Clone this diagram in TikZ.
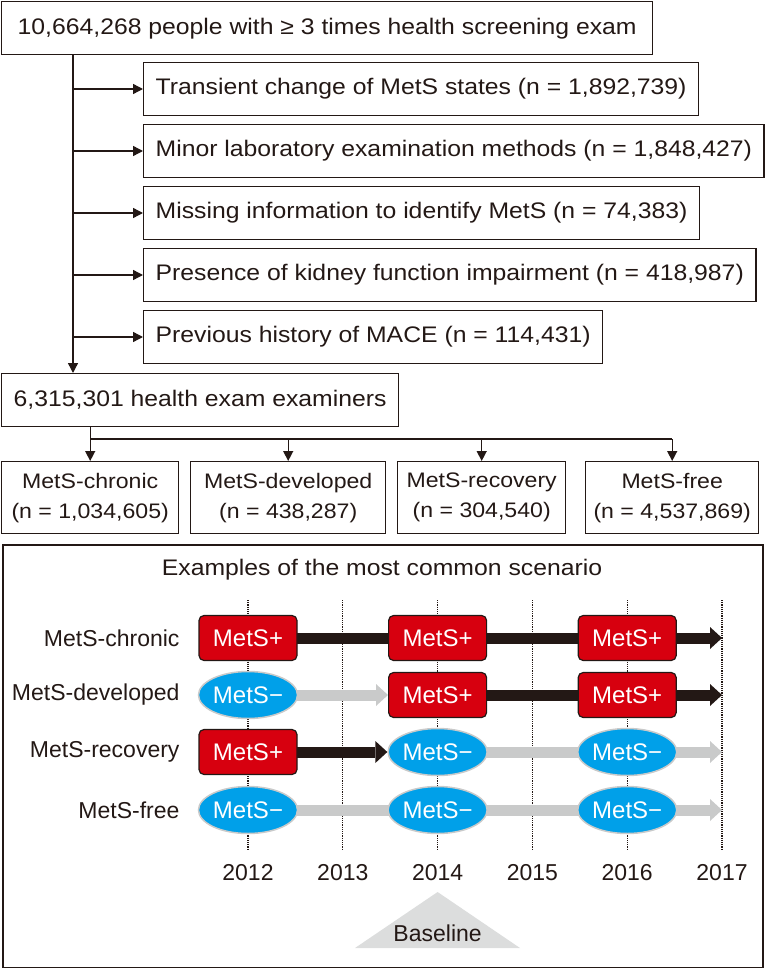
\documentclass[tikz,border=0pt]{standalone}
\usepackage{fontspec}
\setmainfont{Liberation Sans}[FakeStretch=1.1]
\newfontfamily\panelfont{Liberation Sans}
\usetikzlibrary{arrows.meta,shapes.geometric,positioning,calc}

\definecolor{ink}{HTML}{231815}
\definecolor{metsred}{HTML}{D7000F}
\definecolor{metsblue}{HTML}{00A0E9}
\definecolor{bargrey}{HTML}{C9CACA}
\definecolor{basegrey}{HTML}{DCDDDD}

\pgfdeclarelayer{grid}
\pgfdeclarelayer{bars}
\pgfsetlayers{grid,bars,main}

\begin{document}
\begin{tikzpicture}[x=1pt, y=-1pt,
    box/.style={draw=ink, line width=1.4pt, minimum height=53pt, inner xsep=12pt, text=ink, font=\fontsize{22.5}{27}\selectfont},
    grp/.style={draw=ink, line width=1.4pt, anchor=north west, minimum height=72pt, inner sep=2pt, align=center, text=ink, font=\fontsize{21}{30}\selectfont},
    arr/.style={-{Triangle[length=10pt, width=10pt]}, line width=1.4pt, draw=ink},
    plusstate/.style={draw=ink, fill=metsred, rounded corners=5pt, line width=1.2pt, minimum width=98pt, minimum height=45pt, text=white, font=\panelfont\fontsize{24}{28}\selectfont},
    minusstate/.style={ellipse, draw=bargrey, fill=metsblue, line width=1.5pt, minimum width=97pt, minimum height=47pt, inner sep=0pt, text=white, font=\panelfont\fontsize{24}{28}\selectfont},
    rowlbl/.style={anchor=east, text=ink, font=\panelfont\fontsize{23}{27}\selectfont},
    yr/.style={text=ink, font=\panelfont\fontsize{23}{27}\selectfont},
    darkbar/.style={-{Triangle[length=12pt 0 0, width=22pt 0 0, line width=0pt]}, line width=11pt, draw=ink},
    greybar/.style={-{Triangle[length=12pt 0 0, width=22pt 0 0, line width=0pt]}, line width=11pt, draw=bargrey},
    tick/.style={densely dotted, line width=1.2pt, draw=ink}
]
\useasboundingbox (0,0) rectangle (764,968);

% selection flow
\node[box, anchor=north west, minimum width=651pt] (all) at (1,1) {10,664,268 people with ≥ 3 times health screening exam};
\node[box, anchor=west] (ex1) at (143,89) {Transient change of MetS states (n = 1,892,739)};
\node[box, anchor=west] (ex2) at (143,151) {Minor laboratory examination methods (n = 1,848,427)};
\node[box, anchor=west] (ex3) at (143,213) {Missing information to identify MetS (n = 74,383)};
\node[box, anchor=west] (ex4) at (143,275) {Presence of kidney function impairment (n = 418,987)};
\node[box, anchor=west] (ex5) at (143,337) {Previous history of MACE (n = 114,431)};
\node[box, anchor=north west, minimum width=395pt] (pop) at (1,373) {6,315,301 health exam examiners};

\coordinate (trunk) at ([xshift=72pt]all.south west);
\draw[arr] (trunk) -- (trunk |- pop.north);
\foreach \e in {ex1,ex2,ex3,ex4,ex5}
    \draw[arr] (trunk |- \e.west) -- (\e.west);

\node[grp, minimum width=177pt] (g1) at (1,461) {MetS-chronic\\(n = 1,034,605)};
\node[grp, minimum width=195pt] (g2) at (190,461) {MetS-developed\\(n = 438,287)};
\node[grp, minimum width=168pt] (g3) at (397,461) {MetS-recovery\\(n = 304,540)};
\node[grp, minimum width=173pt] (g4) at (585,461) {MetS-free\\(n = 4,537,869)};

\coordinate (split) at (0,439);
\draw[arr] (pop.south -| g1.north) -- (g1.north);
\draw[line width=1.4pt, draw=ink] (g1.north |- split) -- (g4.north |- split);
\foreach \g in {g2,g3,g4}
    \draw[arr] (\g.north |- split) -- (\g.north);

% scenarios
\node[draw=ink, line width=2.2pt, anchor=north west, minimum width=760pt, minimum height=423pt] (scen) at (1.5,543.5) {};
\node[text=ink, font=\fontsize{22.5}{27}\selectfont] (ttl) at (382,570) {Examples of the most common scenario};

\foreach \y [count=\i from 0] in {2012,2013,2014,2015,2016,2017} {
    \node[yr] (y\y) at (248+94.8*\i,873) {\y};
    \begin{pgfonlayer}{grid}
        \draw[tick] (248+94.8*\i,600) -- (248+94.8*\i,850);
    \end{pgfonlayer}
}

\node[rowlbl] (lc) at (183,638) {MetS-chronic};
\node[rowlbl] (ld) at (183,695) {MetS-developed};
\node[rowlbl] (lr) at (183,752) {MetS-recovery};
\node[rowlbl] (lf) at (183,810) {MetS-free};

\node[plusstate] (c1) at (248,638) {MetS+};
\node[plusstate] (c2) at (437.6,638) {MetS+};
\node[plusstate] (c3) at (627.2,638) {MetS+};
\node[minusstate] (d1) at (248,695) {MetS−};
\node[plusstate] (d2) at (437.6,695) {MetS+};
\node[plusstate] (d3) at (627.2,695) {MetS+};
\node[plusstate] (r1) at (248,752) {MetS+};
\node[minusstate] (r2) at (437.6,752) {MetS−};
\node[minusstate] (r3) at (627.2,752) {MetS−};
\node[minusstate] (f1) at (248,810) {MetS−};
\node[minusstate] (f2) at (437.6,810) {MetS−};
\node[minusstate] (f3) at (627.2,810) {MetS−};

\coordinate (cend) at (722,638);
\coordinate (dend) at (722,695);
\coordinate (rend) at (722,752);
\coordinate (fend) at (722,810);

\begin{pgfonlayer}{bars}
\draw[darkbar] (c1.center) -- (cend);
\draw[greybar] (d1.center) -- (d2.west);
\draw[darkbar] (d2.center) -- (dend);
\draw[darkbar] (r1.center) -- (r2.west);
\draw[greybar] (r2.center) -- (rend);
\draw[greybar] (f1.center) -- (fend);
\end{pgfonlayer}

\fill[basegrey] (437.6,892) -- (520,948) -- (355,948) -- cycle;
\node[yr] (base) at (437.6,933) {Baseline};
\end{tikzpicture}
\end{document}
